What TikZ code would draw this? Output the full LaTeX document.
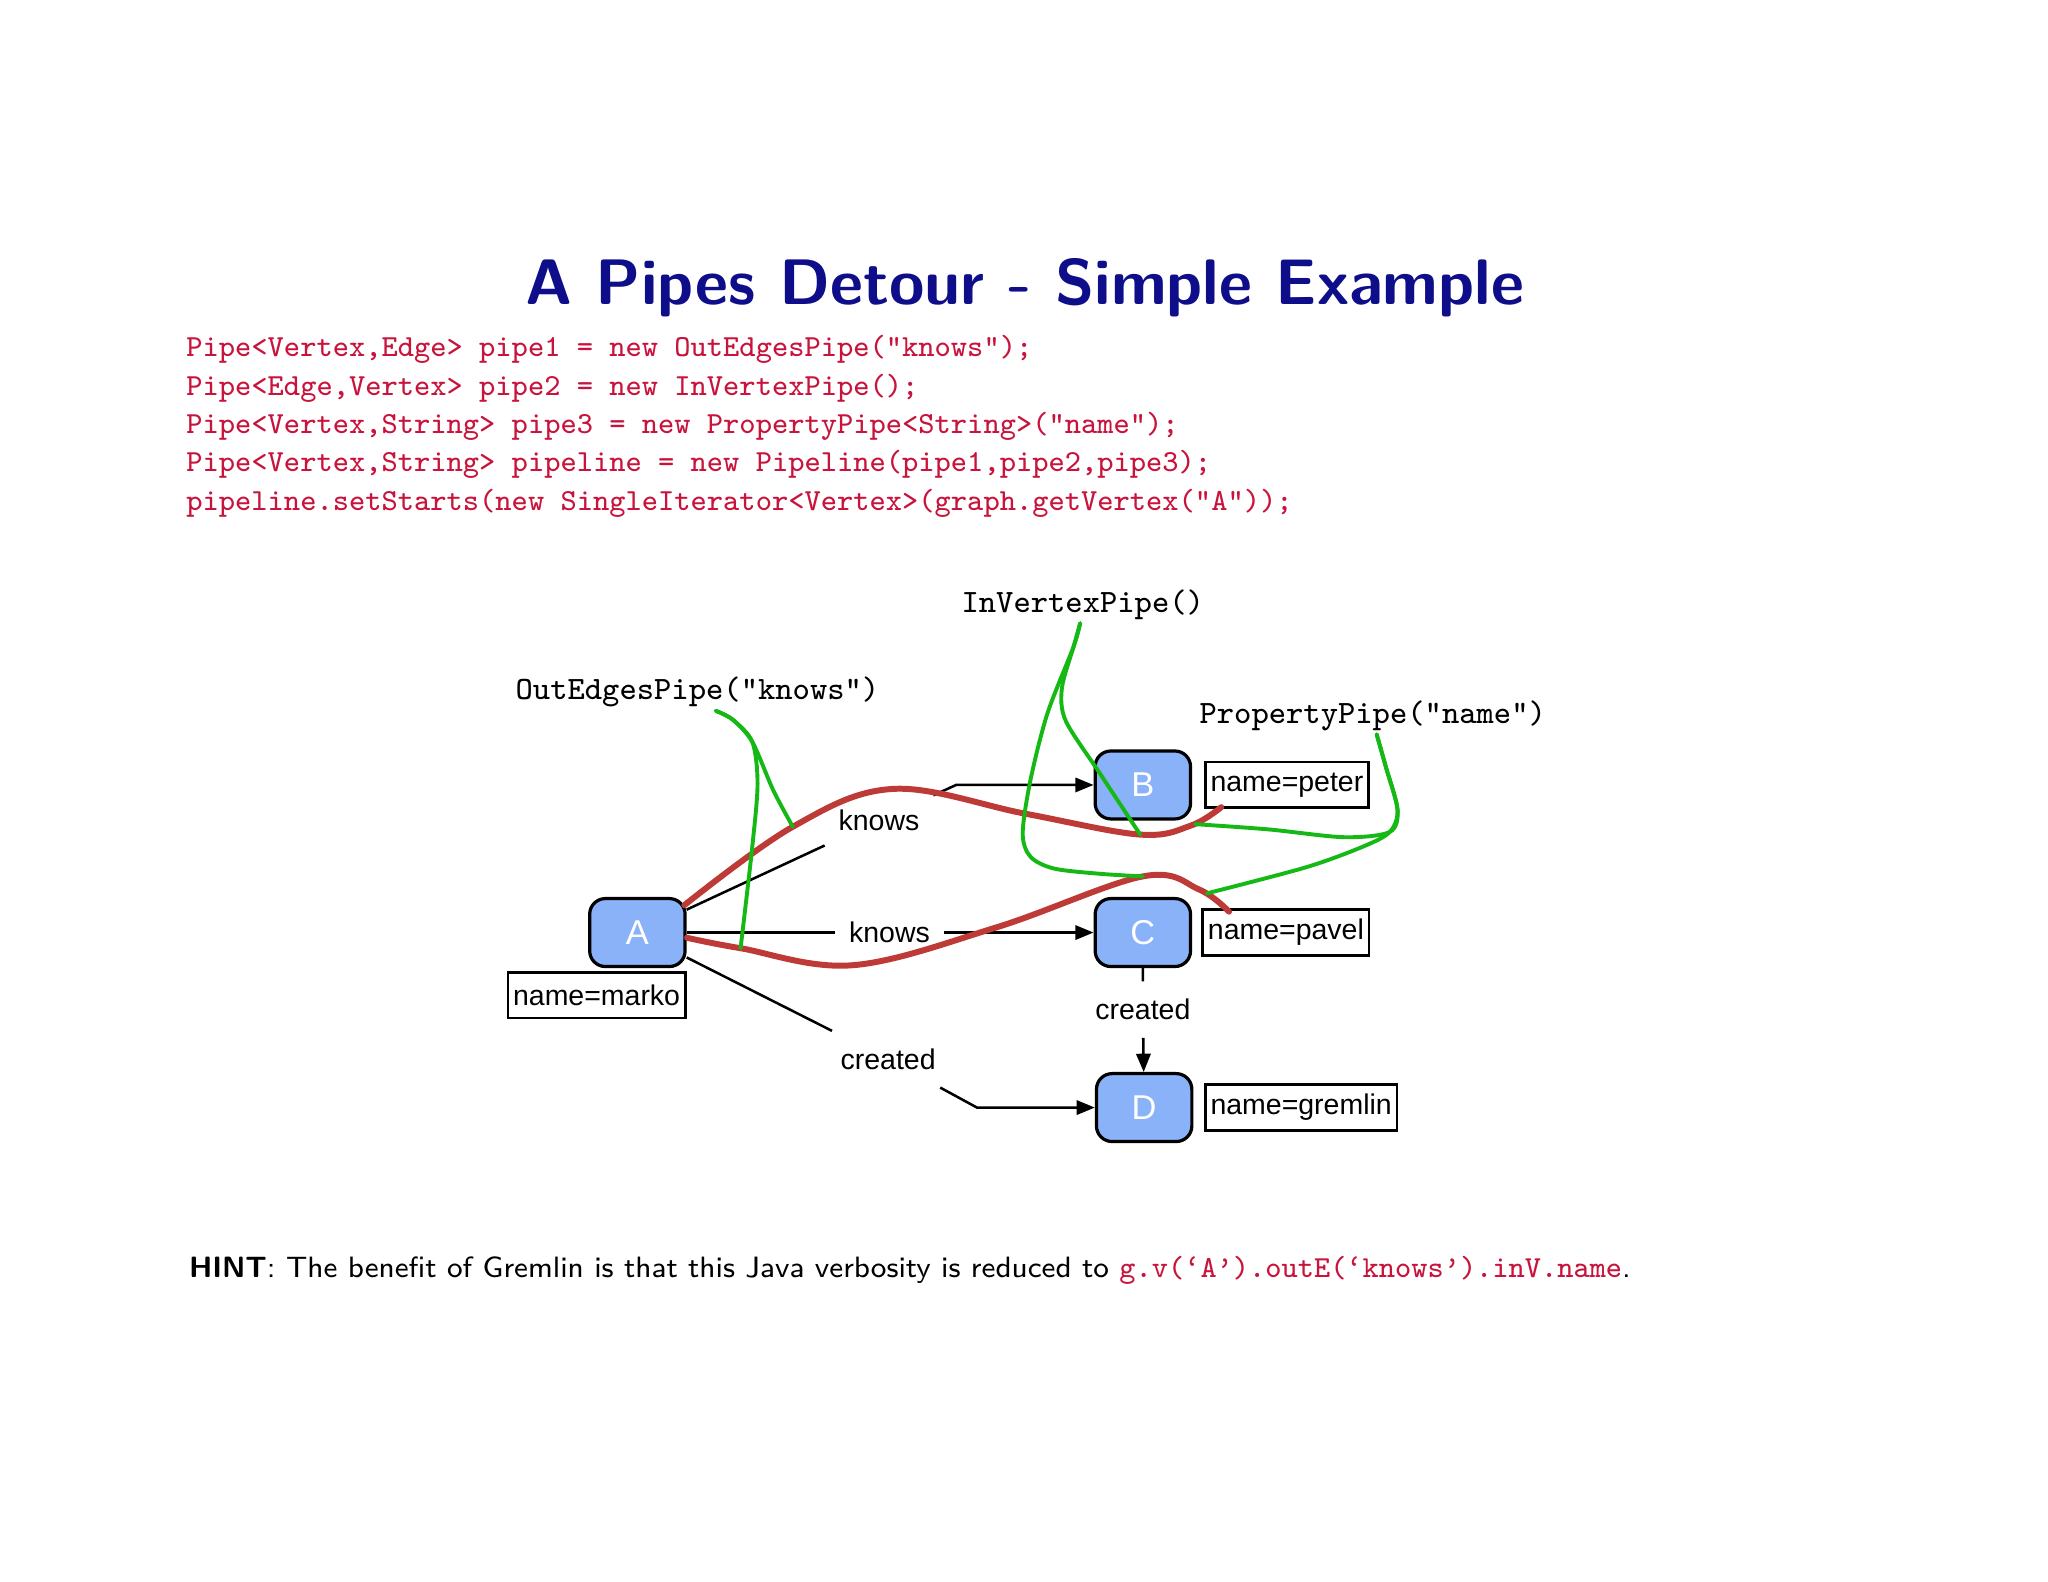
\documentclass[tikz,border=0pt]{standalone}
\usepackage{fontspec}
\newfontfamily\helv{Liberation Sans}
\usetikzlibrary{positioning,arrows.meta}
\definecolor{titleblue}{RGB}{14,14,138}
\definecolor{codered}{RGB}{200,20,60}
\definecolor{vtxblue}{RGB}{138,178,248}
\definecolor{pipered}{RGB}{190,58,55}
\definecolor{pipegreen}{RGB}{22,184,22}
\tikzset{
  vtx/.style={draw, fill=vtxblue, rounded corners=0.12cm, line width=0.7pt,
    minimum width=0.73cm, minimum height=0.52cm, inner sep=0pt, text=white,
    font=\helv\fontsize{7.5}{8}\selectfont},
  prop/.style={draw, fill=white, line width=0.6pt, inner xsep=0.04cm, inner ysep=0pt,
    minimum height=0.35cm, font=\helv\fontsize{6.2}{7}\selectfont},
  elabel/.style={inner xsep=0.1cm, minimum height=0.42cm,
    font=\helv\fontsize{6.2}{7}\selectfont},
  link/.style={line width=0.55pt, -{Triangle[length=0.14cm, width=0.11cm]}},
  pipelabel/.style={inner sep=0.02cm, font=\ttfamily\fontsize{7.1}{8}\selectfont},
  redpipe/.style={pipered, line width=1.3pt, line cap=round},
  greenpipe/.style={pipegreen, line width=0.85pt, line cap=round},
  codeline/.style={anchor=base west, inner sep=0pt, text=codered,
    font=\ttfamily\fontsize{6.67}{8}\selectfont},
}
\begin{document}
\begin{tikzpicture}[x=0.01cm, y=-0.01cm]
  \useasboundingbox (0,0) rectangle (1568,1211.2);

  % title and code
  \node[anchor=base, inner sep=0pt, text=titleblue,
    font=\sffamily\bfseries\fontsize{14}{16}\selectfont] (title) at (784.5,233.5)
    {A Pipes Detour - Simple Example};
  \node[codeline] (code1) at (142,273) {Pipe<Vertex,Edge> pipe1 = new OutEdgesPipe("knows");};
  \node[codeline] (code2) at (142,302.5) {Pipe<Edge,Vertex> pipe2 = new InVertexPipe();};
  \node[codeline] (code3) at (142,332) {Pipe<Vertex,String> pipe3 = new PropertyPipe<String>("name");};
  \node[codeline] (code4) at (142,361) {Pipe<Vertex,String> pipeline = new Pipeline(pipe1,pipe2,pipe3);};
  \node[codeline] (code5) at (142,390.5) {pipeline.setStarts(new SingleIterator<Vertex>(graph.getVertex("A"));};

  % vertices
  \node[vtx] (A) at (488,714) {A};
  \node[vtx] (B) at (875,601) {B};
  \node[vtx] (C) at (875,714) {C};
  \node[vtx] (D) at (876,848) {D};
  \node[prop, below=0.02cm of A.south east, anchor=north east] (nameA) {name=marko};
  \node[prop, right=0.09cm of B] (nameB) {name=peter};
  \node[prop, right=0.07cm of C] (nameC) {name=pavel};
  \node[prop, right=0.08cm of D] (nameD) {name=gremlin};

  % edges
  \node[elabel] (kAB) at (673,628) {knows};
  \node[elabel] (kAC) at (681,714) {knows};
  \node[elabel] (cAD) at (680,811) {created};
  \node[elabel] (cCD) at (875,773) {created};
  \coordinate (bAB) at (732,601);
  \coordinate (bAD) at (748,848);
  \draw[link] (A) -- (kAB) -- (bAB) -- (B);
  \draw[link] (A) -- (kAC) -- (C);
  \draw[link] (A) -- (cAD) -- (bAD) -- (D);
  \draw[link] (C) -- (cCD) -- (D);

  % pipe labels
  \node[pipelabel] (pOut) at (534,530) {OutEdgesPipe("knows")};
  \node[pipelabel] (pIn) at (829,463) {InVertexPipe()};
  \node[pipelabel] (pProp) at (1051,548) {PropertyPipe("name")};

  % traversal paths
  \coordinate (outA) at (607,633);
  \coordinate (outB) at (567,726);
  \coordinate (inA) at (873,639);
  \coordinate (inB) at (875,671);
  \coordinate (propA) at (915,631);
  \coordinate (propB) at (924,684);
  \draw[redpipe] plot[smooth, tension=0.6] coordinates
    {(524,693) (outA) (684,604) (785,623) (inA) (912,632) (935,618)};
  \draw[redpipe] plot[smooth, tension=0.6] coordinates
    {(526,718) (outB) (653,739) (763,710) (inB) (918,681) (941,698)};

  \draw[greenpipe] plot[smooth] coordinates
    {([xshift=0.14cm]pOut.south) (561,551) (576,568) (580,600) (576,648) (outB)};
  \draw[greenpipe] plot[smooth] coordinates
    {([xshift=0.14cm]pOut.south) (561,551) (576,568) (592,605) (outA)};
  \draw[greenpipe] plot[smooth] coordinates
    {([xshift=-0.02cm]pIn.south) (822,495) (813,527) (816,552) (842,592) (inA)};
  \draw[greenpipe] plot[smooth] coordinates
    {([xshift=-0.02cm]pIn.south) (822,495) (802,546) (789,597) (783,638) (789,656)
     (807,665) (842,669) (inB)};
  \draw[greenpipe] plot[smooth] coordinates
    {([xshift=0.03cm]pProp.south) (1061,587) (1070,620) (1064,637) (1029,641)
     (971,635) (propA)};
  \draw[greenpipe] plot[smooth] coordinates
    {([xshift=0.03cm]pProp.south) (1061,587) (1070,620) (1064,637) (1044,648)
     (1000,664) (propB)};

  % hint
  \node[anchor=base west, inner sep=0pt, font=\sffamily\fontsize{6.4}{8}\selectfont]
    (hint) at (144,978) {\textbf{HINT}: The benefit of Gremlin is that this Java
    verbosity is reduced to \textcolor{codered}{\ttfamily\fontsize{6.65}{8}\selectfont g.v(‘A’).outE(‘knows’).inV.name}.};
\end{tikzpicture}
\end{document}
